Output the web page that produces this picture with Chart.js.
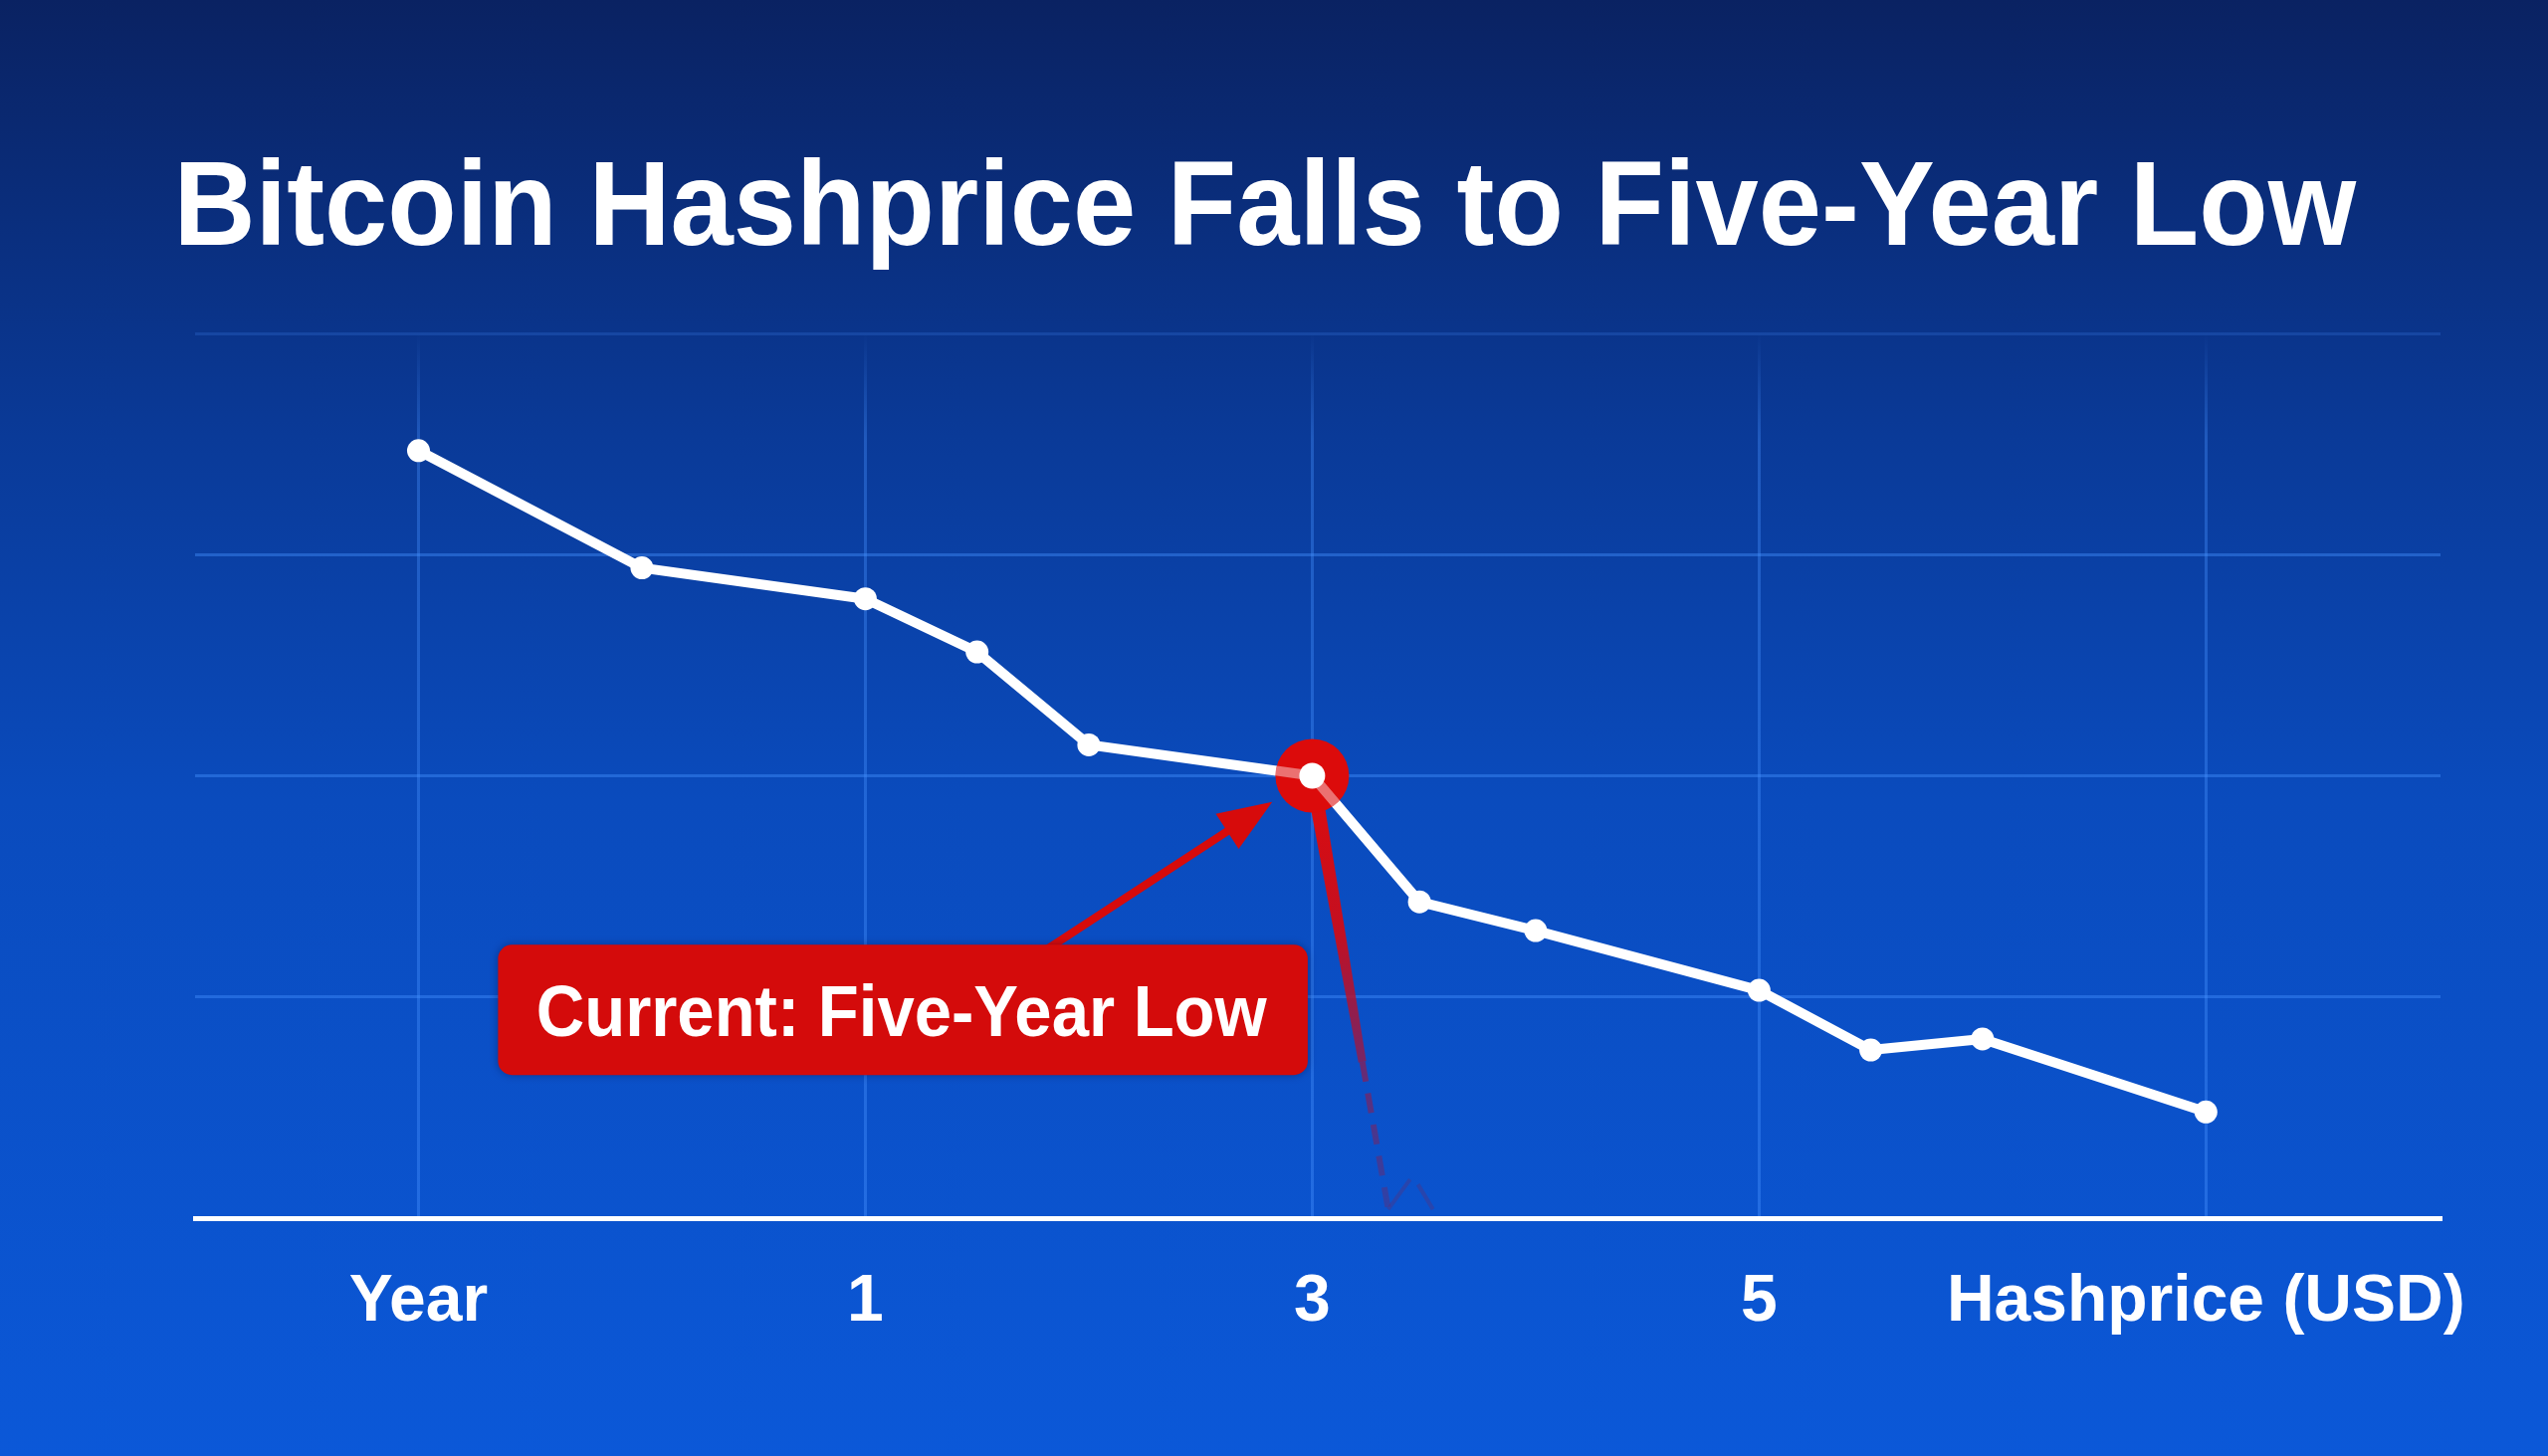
<!DOCTYPE html>
<html>
<head>
<meta charset="utf-8">
<title>Bitcoin Hashprice Falls to Five-Year Low</title>
<script src="https://cdn.jsdelivr.net/npm/chart.js@4.4.1/dist/chart.umd.min.js"></script>
<style>
  html, body { margin: 0; padding: 0; background: #0a3a98; overflow: hidden; }
  canvas { display: block; }
</style>
</head>
<body>
<canvas id="hashChart" width="2560" height="1463"></canvas>
<script>
const chartTitle = "Bitcoin Hashprice Falls to Five-Year Low";
const calloutText = "Current: Five-Year Low";

// readings, x in gridline units along the bottom axis
const xPositions = [0, 0.5, 1, 1.25, 1.5, 2, 2.24, 2.5, 3, 3.25, 3.5, 4];
const hashprice = [3.47, 2.94, 2.80, 2.56, 2.14, 2.00, 1.43, 1.30, 1.03, 0.76, 0.81, 0.48];
const xTickValues = [0, 1, 2, 3, 4];
const xTickLabels = ["Year", "1", "3", "5", "Hashprice (USD)"];
const yTickValues = [0, 1, 2, 3, 4];
const currentIndex = 5;

const FONT = "'Liberation Sans', Arial, Helvetica, sans-serif";
const RED = "#d70b0b";
const GRID = "rgba(70,145,255,0.42)";

// callout placement, in axis units
const callout = { xMin: 0.178, xMax: 1.99, yMin: 0.647, yMax: 1.236, arrowX: 1.408 };
const dropEnd = { x: 2.17, y: 0.04 };

// draw text so its ink spans exactly inkWidth
function drawFitted(ctx, text, font, inkWidth, left, baseline) {
    ctx.font = font;
    const m = ctx.measureText(text);
    const ink = m.actualBoundingBoxLeft + m.actualBoundingBoxRight;
    ctx.save();
    ctx.translate(left, baseline);
    ctx.scale(inkWidth / ink, 1);
    ctx.textAlign = "left";
    ctx.textBaseline = "alphabetic";
    ctx.fillText(text, m.actualBoundingBoxLeft, 0);
    ctx.restore();
}

// Background + title
const backdrop = {
    id: "backdrop",
    beforeDraw(chart) {
        const { ctx, width, height } = chart;
        ctx.save();
        const g = ctx.createLinearGradient(0, 0, 0, height);
        g.addColorStop(0, "#0a2262");
        g.addColorStop(0.3, "#0a3a98");
        g.addColorStop(0.55, "#0a4bbd");
        g.addColorStop(1, "#0b58d8");
        ctx.fillStyle = g;
        ctx.fillRect(0, 0, width, height);

        ctx.fillStyle = "#ffffff";
        drawFitted(ctx, chartTitle, "bold 121px " + FONT, 2186, 182, 246);
        ctx.restore();
    }
};

// Highlight of the current reading, drop line, arrow and callout box
const highlight = {
    id: "highlight",
    afterDatasetsDraw(chart) {
        const { ctx } = chart;
        const xs = chart.scales.x, ys = chart.scales.y;
        const pts = chart.getDatasetMeta(0).data;
        const c = pts[currentIndex];
        ctx.save();

        // drop line fading downward
        const ex = xs.getPixelForValue(dropEnd.x), ey = ys.getPixelForValue(dropEnd.y);
        const dx = ex - c.x, dy = ey - c.y;
        const len = Math.hypot(dx, dy);
        const ux = dx / len, uy = dy / len, nx = -uy, ny = ux;
        const split = 0.66;
        const mx = c.x + dx * split, my = c.y + dy * split;
        const lg = ctx.createLinearGradient(c.x, c.y, mx, my);
        lg.addColorStop(0, "rgba(222,12,12,1)");
        lg.addColorStop(0.55, "rgba(205,12,25,0.95)");
        lg.addColorStop(1, "rgba(165,20,60,0.7)");
        ctx.fillStyle = lg;
        ctx.beginPath();
        ctx.moveTo(c.x + nx * 7.5, c.y + ny * 7.5);
        ctx.lineTo(mx + nx * 4, my + ny * 4);
        ctx.lineTo(mx - nx * 4, my - ny * 4);
        ctx.lineTo(c.x - nx * 7.5, c.y - ny * 7.5);
        ctx.closePath();
        ctx.fill();
        const dg = ctx.createLinearGradient(mx, my, ex, ey);
        dg.addColorStop(0, "rgba(150,25,75,0.7)");
        dg.addColorStop(1, "rgba(110,35,100,0.35)");
        ctx.strokeStyle = dg;
        ctx.lineWidth = 6;
        ctx.setLineDash([20, 12]);
        ctx.beginPath();
        ctx.moveTo(mx, my);
        ctx.lineTo(ex, ey);
        ctx.stroke();
        // small faint tick mark at the bottom of the drop line
        ctx.setLineDash([]);
        ctx.lineWidth = 4;
        ctx.strokeStyle = "rgba(110,35,100,0.3)";
        ctx.beginPath();
        ctx.moveTo(ex, ey);
        ctx.lineTo(ex + 22, ey - 30);
        ctx.moveTo(ex + 30, ey - 25);
        ctx.lineTo(ex + 45, ey);
        ctx.stroke();

        // red ring around the current point
        ctx.fillStyle = "#dc0b0b";
        ctx.beginPath();
        ctx.arc(c.x, c.y, 37, 0, Math.PI * 2);
        ctx.fill();
        // line showing faintly through the ring
        ctx.save();
        ctx.beginPath();
        ctx.arc(c.x, c.y, 37, 0, Math.PI * 2);
        ctx.clip();
        ctx.strokeStyle = "rgba(255,255,255,0.42)";
        ctx.lineWidth = 10;
        ctx.beginPath();
        ctx.moveTo(pts[currentIndex - 1].x, pts[currentIndex - 1].y);
        ctx.lineTo(c.x, c.y);
        ctx.lineTo(pts[currentIndex + 1].x, pts[currentIndex + 1].y);
        ctx.stroke();
        ctx.restore();
        ctx.fillStyle = "#ffffff";
        ctx.beginPath();
        ctx.arc(c.x, c.y, 13, 0, Math.PI * 2);
        ctx.fill();

        // arrow from callout to point
        const bx0 = xs.getPixelForValue(callout.xMin), bx1 = xs.getPixelForValue(callout.xMax);
        const by0 = ys.getPixelForValue(callout.yMax), by1 = ys.getPixelForValue(callout.yMin);
        const sx = xs.getPixelForValue(callout.arrowX), sy = by0 + 4;
        const ax = c.x - sx, ay = c.y - sy;
        const al = Math.hypot(ax, ay);
        const aux = ax / al, auy = ay / al;
        const tx = c.x - aux * 48, ty = c.y - auy * 48;
        ctx.strokeStyle = RED;
        ctx.fillStyle = RED;
        ctx.lineWidth = 8;
        ctx.beginPath();
        ctx.moveTo(sx, sy);
        ctx.lineTo(tx - aux * 40, ty - auy * 40);
        ctx.stroke();
        ctx.beginPath();
        ctx.moveTo(tx, ty);
        ctx.lineTo(tx - aux * 54 - auy * 21, ty - auy * 54 + aux * 21);
        ctx.lineTo(tx - aux * 54 + auy * 21, ty - auy * 54 - aux * 21);
        ctx.closePath();
        ctx.fill();

        // callout box
        ctx.shadowColor = "rgba(0,0,40,0.35)";
        ctx.shadowBlur = 8;
        ctx.fillStyle = "#d40b0b";
        ctx.beginPath();
        ctx.roundRect(bx0, by0, bx1 - bx0, by1 - by0, 14);
        ctx.fill();
        ctx.shadowColor = "transparent";
        ctx.fillStyle = "#ffffff";
        const midX = (bx0 + bx1) / 2, midY = (by0 + by1) / 2;
        drawFitted(ctx, calloutText, "bold 72px " + FONT, 733, midX - 733 / 2, midY + 26);

        ctx.restore();
    }
};

const ctx = document.getElementById("hashChart").getContext("2d");

const hashChart = new Chart(ctx, {
    type: "line",
    data: {
        datasets: [{
            label: "Hashprice (USD)",
            data: xPositions.map((x, i) => ({ x: x, y: hashprice[i] })),
            borderColor: "#ffffff",
            borderWidth: 10,
            borderJoinStyle: "round",
            borderCapStyle: "round",
            pointRadius: 11.5,
            pointBackgroundColor: "#ffffff",
            pointBorderWidth: 0,
            tension: 0,
            fill: false,
            clip: false
        }]
    },
    options: {
        responsive: false,
        devicePixelRatio: 1,
        animation: false,
        layout: { padding: { top: 335, left: 196, right: 108, bottom: 0 } },
        plugins: {
            legend: { display: false },
            title: { display: false },
            tooltip: { enabled: false }
        },
        scales: {
            x: {
                type: "linear",
                min: -0.5,
                max: 4.525,
                afterBuildTicks: s => { s.ticks = xTickValues.map(v => ({ value: v })); },
                afterFit: s => { s.height = 239; },
                ticks: {
                    color: "#ffffff",
                    font: { family: FONT, size: 66, weight: "bold" },
                    padding: 45,
                    maxRotation: 0,
                    autoSkip: false,
                    callback: (v, i) => xTickLabels[i]
                },
                grid: {
                    lineWidth: 3,
                    drawTicks: false,
                    color: c => {
                        const a = c.chart.chartArea;
                        if (!a) return GRID;
                        const g = c.chart.ctx.createLinearGradient(0, a.top, 0, a.bottom);
                        g.addColorStop(0, "rgba(70,145,255,0)");
                        g.addColorStop(0.12, "rgba(70,145,255,0.36)");
                        g.addColorStop(1, "rgba(70,145,255,0.4)");
                        return g;
                    }
                },
                border: { display: true, color: "#ffffff", width: 5 }
            },
            y: {
                min: 0,
                max: 4,
                afterBuildTicks: s => { s.ticks = yTickValues.map(v => ({ value: v })); },
                afterFit: s => { s.width = 0; },
                ticks: { display: false },
                grid: {
                    lineWidth: 3,
                    drawTicks: false,
                    color: c => c.tick.value === 4 ? "rgba(70,145,255,0.2)" : (c.tick.value === 0 ? "rgba(0,0,0,0)" : GRID)
                },
                border: { display: false }
            }
        }
    },
    plugins: [backdrop, highlight]
});
</script>
</body>
</html>
